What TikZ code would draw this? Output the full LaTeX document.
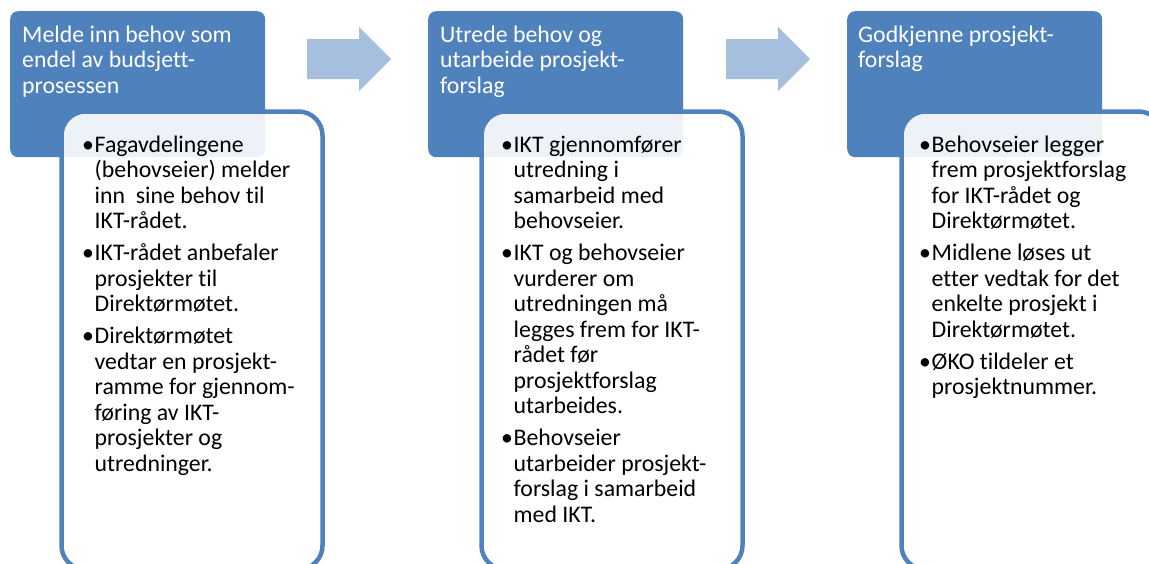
\documentclass[tikz,border=0pt]{standalone}
\usepackage{fontspec}
\setmainfont{Carlito}[Ligatures=NoCommon]
\usepackage{xcolor}
\usepackage{tikz}
\definecolor{hdblue}{HTML}{4F81BD}
\definecolor{arrblue}{HTML}{A7BFDE}
\newcommand\pkt{\makebox[12.5pt][l]{\textbullet}}
\begin{document}
\begin{tikzpicture}[x=1pt,y=-1pt,
headbox/.style={fill=hdblue,rounded corners=8pt,minimum width=255pt,minimum height=146pt,anchor=north west,inner sep=0pt},
bodybox/.style={draw=hdblue,line width=4.5pt,fill=white,fill opacity=0.9,rounded corners=24pt,minimum width=261pt,minimum height=458pt,anchor=north west,inner sep=0pt},
headtext/.style={text=white,anchor=base west,inner sep=0pt,font=\fontsize{23.8}{25.5}\selectfont},
bodytext/.style={text=black,anchor=base west,inner sep=0pt,font=\fontsize{23.8}{25.5}\selectfont},
pil/.style={fill=arrblue}]
\useasboundingbox (0,0) rectangle (1149,563);
\node[headbox] (head1) at (10,11) {};
\node[headbox] (head2) at (428,11) {};
\node[headbox] (head3) at (847,11) {};
\node[bodybox] (box1) at (59.25,109.25) {};
\node[bodybox] (box2) at (479.25,109.25) {};
\node[bodybox] (box3) at (899.25,109.25) {};
\fill[pil](307,39)--(359,39)--(359,27)--(391,59)--(359,91)--(359,79)--(307,79)--cycle;
\fill[pil](726,39)--(778,39)--(778,27)--(810,59)--(778,91)--(778,79)--(726,79)--cycle;
\node[headtext] (ht1) at (22,42) {\begin{tabular}[t]{@{}l@{}}Melde inn behov som\\endel av budsjett-\\prosessen\end{tabular}};
\node[headtext] (ht2) at (440,42) {\begin{tabular}[t]{@{}l@{}}Utrede behov og\\utarbeide prosjekt-\\forslag\end{tabular}};
\node[headtext] (ht3) at (858,42) {\begin{tabular}[t]{@{}l@{}}Godkjenne prosjekt-\\forslag\end{tabular}};
\node[bodytext] (bt1) at (82,152) {\begin{tabular}[t]{@{}l@{}l@{}}
\pkt&Fagavdelingene\\&(behovseier) melder\\&inn\ \ sine behov til\\&IKT-rådet.\\[6.5pt]
\pkt&IKT-rådet anbefaler\\&prosjekter til\\&Direktørmøtet.\\[6.5pt]
\pkt&Direktørmøtet\\&vedtar en prosjekt-\\&ramme for gjennom-\\&føring av IKT-\\&prosjekter og\\&utredninger.
\end{tabular}};
\node[bodytext] (bt2) at (501,152) {\begin{tabular}[t]{@{}l@{}l@{}}
\pkt&IKT gjennomfører\\&utredning i\\&samarbeid med\\&behovseier.\\[6.5pt]
\pkt&IKT og behovseier\\&vurderer om\\&utredningen må\\&legges frem for IKT-\\&rådet før\\&prosjektforslag\\&utarbeides.\\[6.5pt]
\pkt&Behovseier\\&utarbeider prosjekt-\\&forslag i samarbeid\\&med IKT.
\end{tabular}};
\node[bodytext] (bt3) at (919,152) {\begin{tabular}[t]{@{}l@{}l@{}}
\pkt&Behovseier legger\\&frem prosjektforslag\\&for IKT-rådet og\\&Direktørmøtet.\\[6.5pt]
\pkt&Midlene løses ut\\&etter vedtak for det\\&enkelte prosjekt i\\&Direktørmøtet.\\[6.5pt]
\pkt&ØKO tildeler et\\&prosjektnummer.
\end{tabular}};
\end{tikzpicture}
\end{document}
